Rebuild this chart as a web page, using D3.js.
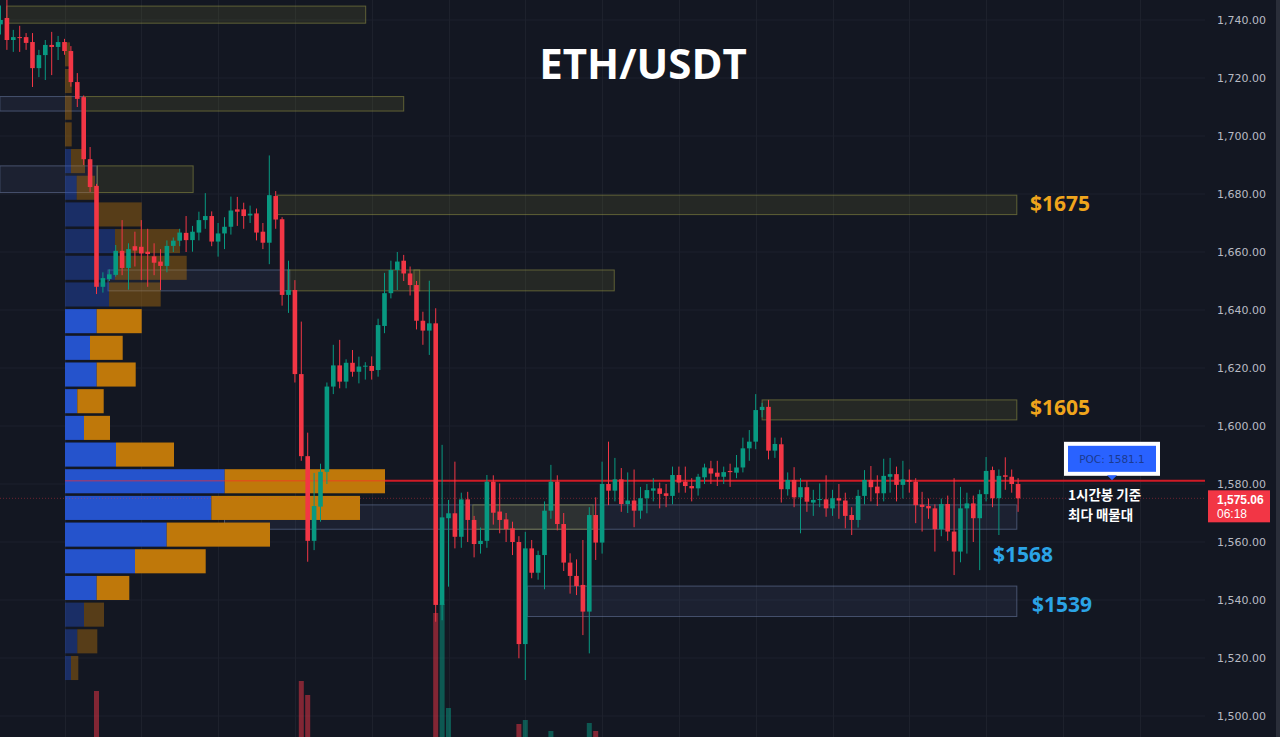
<!DOCTYPE html>
<html><head><meta charset="utf-8">
<script src="https://cdn.jsdelivr.net/npm/d3@7"></script>
<style>html,body{margin:0;padding:0;background:#131722;overflow:hidden}</style>
</head><body><svg id="c" width="1280" height="737"></svg>
<script>
// ---------- DATA ----------
const opens = [1738.5,1740.7,1733.1,1734.1,1734.1,1732.4,1723.4,1727.9,1731.4,1730.7,
1732.4,1729.3,1718.6,1713.4,1692,1682.8,1648,1650.7,1652.1,1660.4,
1654.5,1662,1661.8,1660.1,1658.5,1656.7,1655.2,1662.1,1663.9,1666.6,
1664.1,1666.7,1671,1672.4,1663.6,1666.4,1668.7,1674.7,1674.7,1672.6,
1673.3,1667,1663.2,1679.3,1671.3,1645.2,1646.9,1617.9,1589.6,1560.4,
1572.2,1584.2,1613.6,1620.9,1615.3,1621.8,1618.7,1620.5,1620.7,1619.3,
1634.5,1645.8,1653.8,1657,1652.6,1648.6,1636.3,1632.9,1635.4,1538.3,
1568.2,1569.9,1561.8,1574.7,1567.6,1559.3,1560.4,1580.8,1570.5,1567.8,
1564.7,1560,1524.8,1557.8,1549.4,1555.5,1570.8,1580.8,1566.2,1552.9,
1548.3,1545.2,1536,1569.3,1559.8,1580,1577.7,1581.6,1573.1,1574.3,
1570.8,1575.1,1577.7,1578.5,1576.8,1575.9,1583.1,1580.8,1579.3,1578.5,
1582.3,1585.4,1583.9,1582.5,1584.5,1583.9,1585.7,1592.3,1594.6,1605.5,
1606.6,1591.5,1593.7,1578.2,1581.4,1575.4,1578.9,1573.6,1574.5,1574.7,
1571.6,1575.1,1574.3,1569.3,1567.6,1575.9,1581.4,1579.1,1576.8,1582.5,
1583.4,1579.7,1581.4,1580.8,1572.9,1572.4,1571.6,1564.4,1573.1,1563.6,
1556.7,1571.6,1573.3,1568.2,1576.5,1584.8,1575.1,1583,1582.5,1580];
const highs = [1745,1747,1736.6,1738,1735.5,1735.5,1729.7,1733.1,1735.9,1734.5,
1733.5,1731,1721.7,1714,1696.2,1683.5,1653,1654,1662.4,1671,
1663,1667,1671,1668,1663,1661,1664,1665,1668,1672.4,
1669,1673.9,1680.3,1674,1670,1672,1679.1,1679,1677,1676,
1675,1670,1693.3,1681,1672,1657,1650.3,1636,1597.7,1583.8,
1587,1615,1628,1629.7,1623,1626.2,1623.9,1622,1624,1637,
1652.8,1657,1660,1659,1655,1650,1639.4,1650.1,1640.6,1593.5,
1574.5,1587.7,1577,1577.3,1569,1565,1583.1,1583,1580.2,1570,
1567,1562,1563.5,1560.7,1557,1574,1586.6,1583,1570,1556.1,
1554,1560.7,1572,1575.4,1587.7,1594.6,1589,1585.5,1584,1585,
1579,1580,1582,1580.5,1580,1586,1586,1586,1582,1583.5,
1587,1588,1588,1586,1587,1590,1596,1598.6,1611,1608,
1609,1596,1596,1584,1585.8,1582,1581,1578,1580.2,1583,
1578,1580,1577,1572,1578,1584.8,1586.2,1583,1588.7,1589,
1586,1588,1585,1582,1577.3,1575,1573,1575,1576,1582,
1579,1577,1576,1578,1589.3,1586,1585,1589.2,1585,1582];
const lows = [1735,1729.7,1729,1729,1729.7,1716.9,1720.3,1719.3,1721,1726.2,
1728,1717,1710,1690,1680.7,1645.5,1646,1650,1651.5,1652,
1647,1655,1650.3,1648,1652,1646.9,1653,1660,1662,1660,
1660.1,1664,1668,1662,1658.4,1661,1666,1669,1668,1670,
1664,1661,1655.8,1668,1641.5,1639,1615,1588,1553.2,1557.2,
1567,1580,1611,1613,1613,1617,1614.7,1616,1616,1617,
1632,1644,1646.9,1650,1645,1633.3,1628,1624.5,1532.5,1533,
1544.6,1557.8,1558,1560,1554.7,1556,1558,1566,1563,1560,
1555.5,1519.9,1512.4,1547.5,1547,1543.7,1568,1564,1550,1542.2,
1541.7,1527.9,1521.6,1553.8,1556,1572.7,1574,1570.4,1570,1565.1,
1568,1569.9,1574,1571.6,1572,1573,1577,1577,1574,1576,
1580,1580,1579.3,1580,1579,1582,1584,1588,1592,1603,
1588.5,1589,1573.6,1576,1572,1563,1570.4,1569,1572,1568.7,
1569,1568,1564.7,1562.4,1565,1573,1574,1572.4,1574,1577,
1574,1575,1577,1566.5,1563.6,1568,1556.7,1562,1560.4,1548.6,
1553,1556,1560,1550.3,1574,1572,1562.4,1578,1577,1570.4];
const closes = [1740,1733.1,1734.1,1733.8,1732.1,1723.4,1727.9,1731.4,1730.7,1732.4,
1729.3,1718.6,1712.8,1692,1682.4,1648,1651,1652.3,1660.4,1654.5,
1661,1660.5,1659.5,1659.3,1656.3,1655.2,1662.1,1663.9,1666.7,1664.1,
1667,1671,1672.4,1663.6,1666.4,1668.7,1674.3,1673.9,1672.4,1673.2,
1666.7,1663.2,1679.6,1671.2,1645.2,1646.9,1617.9,1589.6,1560.4,1572.4,
1584.2,1613.6,1620.9,1615.3,1621.8,1618.7,1620.5,1620.8,1619,1634.8,
1645.8,1653.8,1656.7,1652.6,1648.6,1636.3,1632.9,1635.4,1538.3,1568.5,
1569.9,1561.8,1574.7,1567.6,1559.3,1560.4,1580.8,1570.1,1567.6,1564.4,
1560,1524.8,1557.8,1549.4,1555.5,1570.8,1580.8,1566.2,1552.9,1548.3,
1544.8,1536,1569.3,1559.8,1580,1577.7,1581.6,1573.1,1574.3,1570.8,
1575.1,1577.9,1578.5,1576.6,1575.9,1583.1,1580.5,1579.3,1578.5,1582.5,
1585.7,1583.6,1582.5,1584.1,1584.1,1585.7,1592.3,1594.6,1605.5,1606.6,
1591.5,1593.8,1578.2,1581.4,1575.4,1578.9,1573.9,1574.5,1574.8,1571.6,
1575.1,1574.3,1569,1567.6,1575.9,1581.4,1578.9,1576.8,1582.8,1583.4,
1579.7,1581.6,1580.8,1572.7,1572.1,1571.6,1564.4,1573.1,1563.6,1556.7,
1571.6,1573.3,1568.2,1576.5,1584.5,1575.1,1582.8,1582.5,1580,1575.06];
const volumes = [12,18,10,9,8,20,12,14,10,8,
9,22,18,28,24,54.5,16,10,20,14,
15,9,14,10,9,10,12,7,8,10,
9,11,13,14,10,9,13,8,9,7,
11,10,28,12,30,10,29,59.5,52.5,27,
20,30,14,12,10,9,8,7,8,18,
22,16,10,12,11,19,12,14,93.5,98,
46,24,20,16,14,10,26,18,12,9,
13,38,40,14,10,22,34.5,24,21,14,
11,28,38.5,34.5,26,18,12,14,8,10,
9,8,6,7,6,12,8,7,6,9,
10,8,7,6,5,7,14,10,24,8,
22,9,20,10,12,11,9,6,5,9,
8,6,10,8,12,13,10,8,11,7,
9,8,6,14,9,6,15,12,13,22,
20,10,11,18,16,14,15,8,7,10];

// Volume profile (rows from lowest price bin upward)
const profileUp   = [6,12.3,19,31.7,70,101.7,146.3,159.7,51,19,12.3,31.7,25,31.7,44,50,50,32,11.7,6,0,0,0,0];
const profileDown = [7.3,20,20,32.6,70.7,103.3,148.7,160.3,58,26,26.4,39,32.7,45,51.7,71.7,65,44.7,18.3,14,6.7,6.7,6.7,5];
const profileInValueArea = [0,0,0,1,1,1,1,1,1,1,1,1,1,1,0,0,0,0,0,0,0,0,0,0];
const profileBase = 1512.4, profileStep = 9.2;
const pocPrice = 1581.1;
const lastPrice = 1575.06;

// Zones (candle index range, price top/bottom, kind)
const zoneStart  = [0.97, -0.1, 12.9, -0.1, 15.1, 43.2, 16.8, 44.9, 64.6, 119, 35, 73.8, 82.3];
const zoneEnd    = [57.06, 12.9, 63.0, 15.1, 30.1, 158.8, 45.2, 65.5, 95.9, 158.8, 158.8, 92.6, 158.8];
const zoneTop    = [1744.8, 1713.6, 1713.6, 1689.7, 1689.7, 1679.6, 1653.8, 1653.8, 1653.8, 1609, 1572.8, 1572.8, 1544.8];
const zoneBottom = [1738.9, 1708.6, 1708.6, 1680.5, 1680.5, 1672.9, 1646.6, 1646.6, 1646.6, 1602.1, 1564.4, 1564.4, 1534.3];
const zoneKind   = ["y","b","y","b","y","y","b","y","y","y","b","y","b"];

// Level labels
const levelText  = ["$1675","$1605","$1568","$1539"];
const levelPrice = [1676.8, 1606.4, 1555.8, 1538.6];
const levelKind  = ["y","y","b","b"];

const priceTicks = [1500,1520,1540,1560,1580,1600,1620,1640,1660,1680,1700,1720,1740];

// ---------- DRAW ----------
const svg = d3.select("#c");
const W = 1280, H = 737, plotRight = 1205;
const x = d3.scaleLinear().domain([0,159]).range([0.5,1018.1]);
const y = d3.scaleLinear().domain([1500,1740]).range([716,20]);
const yVol = d3.scaleLinear().domain([0,100]).range([800,600]);
const vpx = d3.scaleLinear().domain([0,320]).range([0,320]);
const UP = "#089981", DOWN = "#f23645";
const idx = d3.range(opens.length);

svg.append("rect").attr("width",W).attr("height",H).attr("fill","#131722");

// grid
const grid = svg.append("g");
grid.selectAll("line.h").data(priceTicks).join("line")
  .attr("x1",0).attr("x2",plotRight).attr("y1",d=>y(d)).attr("y2",d=>y(d))
  .attr("stroke","#1d212c").attr("stroke-width",1);
grid.selectAll("line.v").data(d3.range(10,190,12).filter(i=>x(i)<plotRight)).join("line")
  .attr("x1",d=>Math.round(x(d))+0.5).attr("x2",d=>Math.round(x(d))+0.5).attr("y1",0).attr("y2",H)
  .attr("stroke","#1d212c").attr("stroke-width",1);

// volume bars
svg.append("g").selectAll("rect").data(idx).join("rect")
  .attr("x",i=>x(i)-2.5).attr("width",5)
  .attr("y",i=>yVol(volumes[i])).attr("height",i=>Math.max(0,yVol(0)-yVol(volumes[i])))
  .attr("fill",i=>closes[i]>=opens[i]?UP:DOWN).attr("opacity",0.5);

// zones
const zg = svg.append("g");
zoneStart.forEach((s,k)=>{
  const yel = zoneKind[k]==="y";
  zg.append("rect")
    .attr("x",x(s)).attr("width",x(zoneEnd[k])-x(s))
    .attr("y",y(zoneTop[k])).attr("height",y(zoneBottom[k])-y(zoneTop[k]))
    .attr("fill",yel?"rgba(150,150,60,0.14)":"rgba(110,130,190,0.10)")
    .attr("stroke",yel?"rgba(150,150,70,0.55)":"rgba(110,125,165,0.55)")
    .attr("stroke-width",1);
});

// volume profile
const pg = svg.append("g");
const px0 = 65;
profileUp.forEach((u,k)=>{
  const lo = profileBase + k*profileStep, hi = lo + profileStep;
  const yt = y(hi)+2.6, hh = y(lo)-y(hi)-2.6;
  const op = profileInValueArea[k] ? 1 : 0.4;
  if (u>0) pg.append("rect").attr("x",px0).attr("y",yt).attr("width",vpx(u)).attr("height",hh)
    .attr("fill","#2553cc").attr("opacity",op);
  pg.append("rect").attr("x",px0+vpx(u)).attr("y",yt).attr("width",vpx(profileDown[k])).attr("height",hh)
    .attr("fill","#bf780a").attr("opacity",op);
});

// POC line
const totals = profileUp.map((u,k)=>u+profileDown[k]);
const pocRow = totals.indexOf(d3.max(totals));
const pocEnd = px0 + vpx(totals[pocRow]);
svg.append("line").attr("x1",px0).attr("x2",pocEnd).attr("y1",y(pocPrice)).attr("y2",y(pocPrice))
  .attr("stroke","#ff2a2a").attr("stroke-width",1.5).attr("opacity",0.45);
svg.append("line").attr("x1",pocEnd).attr("x2",plotRight).attr("y1",y(pocPrice)).attr("y2",y(pocPrice))
  .attr("stroke","#d01b26").attr("stroke-width",2);

// last price line
svg.append("line").attr("x1",0).attr("x2",plotRight).attr("y1",y(lastPrice)).attr("y2",y(lastPrice))
  .attr("stroke","#f23645").attr("stroke-opacity",0.4).attr("stroke-dasharray","1,2");

// candles
const cg = svg.append("g");
cg.selectAll("line").data(idx).join("line")
  .attr("x1",i=>x(i)).attr("x2",i=>x(i)).attr("y1",i=>y(highs[i])).attr("y2",i=>y(lows[i]))
  .attr("stroke",i=>closes[i]>=opens[i]?UP:DOWN).attr("stroke-width",1);
cg.selectAll("rect").data(idx).join("rect")
  .attr("x",i=>x(i)-2.3).attr("width",4.6)
  .attr("y",i=>y(Math.max(opens[i],closes[i])))
  .attr("height",i=>Math.max(1,Math.abs(y(opens[i])-y(closes[i]))))
  .attr("fill",i=>closes[i]>=opens[i]?UP:DOWN);

// level labels
const labX = [1030,1030,993,1032];
levelText.forEach((t,k)=>{
  svg.append("text").attr("x",labX[k]).attr("y",y(levelPrice[k]))
    .attr("dominant-baseline","central")
    .attr("font-family","'Open Sans', 'Noto Sans', sans-serif").attr("font-weight",700).attr("font-size",21)
    .attr("fill",levelKind[k]==="y"?"#f0a51c":"#2ba4e6").text(t);
});

// title
svg.append("text").attr("x",643).attr("y",62).attr("text-anchor","middle").attr("dominant-baseline","central")
  .attr("font-family","'Open Sans', 'Noto Sans', sans-serif").attr("font-weight",700).attr("font-size",42)
  .attr("fill","#ffffff").text("ETH/USDT");

// POC callout
const cx = 1112, cyL = y(pocPrice);
svg.append("rect").attr("x",cx-46).attr("y",cyL-37).attr("width",92).attr("height",30)
  .attr("fill","#2962ff").attr("stroke","#ffffff").attr("stroke-width",4);
svg.append("path").attr("d",`M${cx-5},${cyL-5.5} L${cx+5},${cyL-5.5} L${cx},${cyL-0.5} Z`).attr("fill","#2962ff");
svg.append("text").attr("x",cx).attr("y",cyL-22).attr("text-anchor","middle").attr("dominant-baseline","central")
  .attr("font-family","'DejaVu Sans', sans-serif").attr("font-size",10.5).attr("fill","#1b3a8f").text("POC: "+pocPrice);
svg.append("text").attr("x",1068).attr("y",cyL+13).attr("dominant-baseline","central")
  .attr("font-family","'Noto Sans CJK KR', sans-serif").attr("font-weight",700).attr("font-size",13.5)
  .attr("fill","#ffffff").text("1시간봉 기준");
svg.append("text").attr("x",1068).attr("y",cyL+33).attr("dominant-baseline","central")
  .attr("font-family","'Noto Sans CJK KR', sans-serif").attr("font-weight",700).attr("font-size",13.5)
  .attr("fill","#ffffff").text("최다 매물대");

// right axis
const ax = svg.append("g");
ax.selectAll("text").data(priceTicks).join("text")
  .attr("x",1217).attr("y",d=>y(d)).attr("dominant-baseline","central")
  .attr("font-family","'DejaVu Sans', sans-serif").attr("font-size",11)
  .attr("fill","#b8bbc4").text(d=>d3.format(",.2f")(d));
svg.append("rect").attr("x",1276).attr("y",0).attr("width",4).attr("height",H).attr("fill","#2a2e39");

// last price tag
const ly = y(lastPrice);
svg.append("rect").attr("x",1208).attr("y",ly-8).attr("width",62).attr("height",32).attr("fill","#f23645");
svg.append("text").attr("x",1217).attr("y",ly+1.5).attr("dominant-baseline","central")
  .attr("font-family","'Liberation Sans', Arial, sans-serif").attr("font-weight",700).attr("font-size",12)
  .attr("fill","#ffffff").text(d3.format(",.2f")(lastPrice));
svg.append("text").attr("x",1217).attr("y",ly+15.5).attr("dominant-baseline","central")
  .attr("font-family","'Liberation Sans', Arial, sans-serif").attr("font-size",12)
  .attr("fill","#ffffff").text("06:18");
</script>
</body></html>
